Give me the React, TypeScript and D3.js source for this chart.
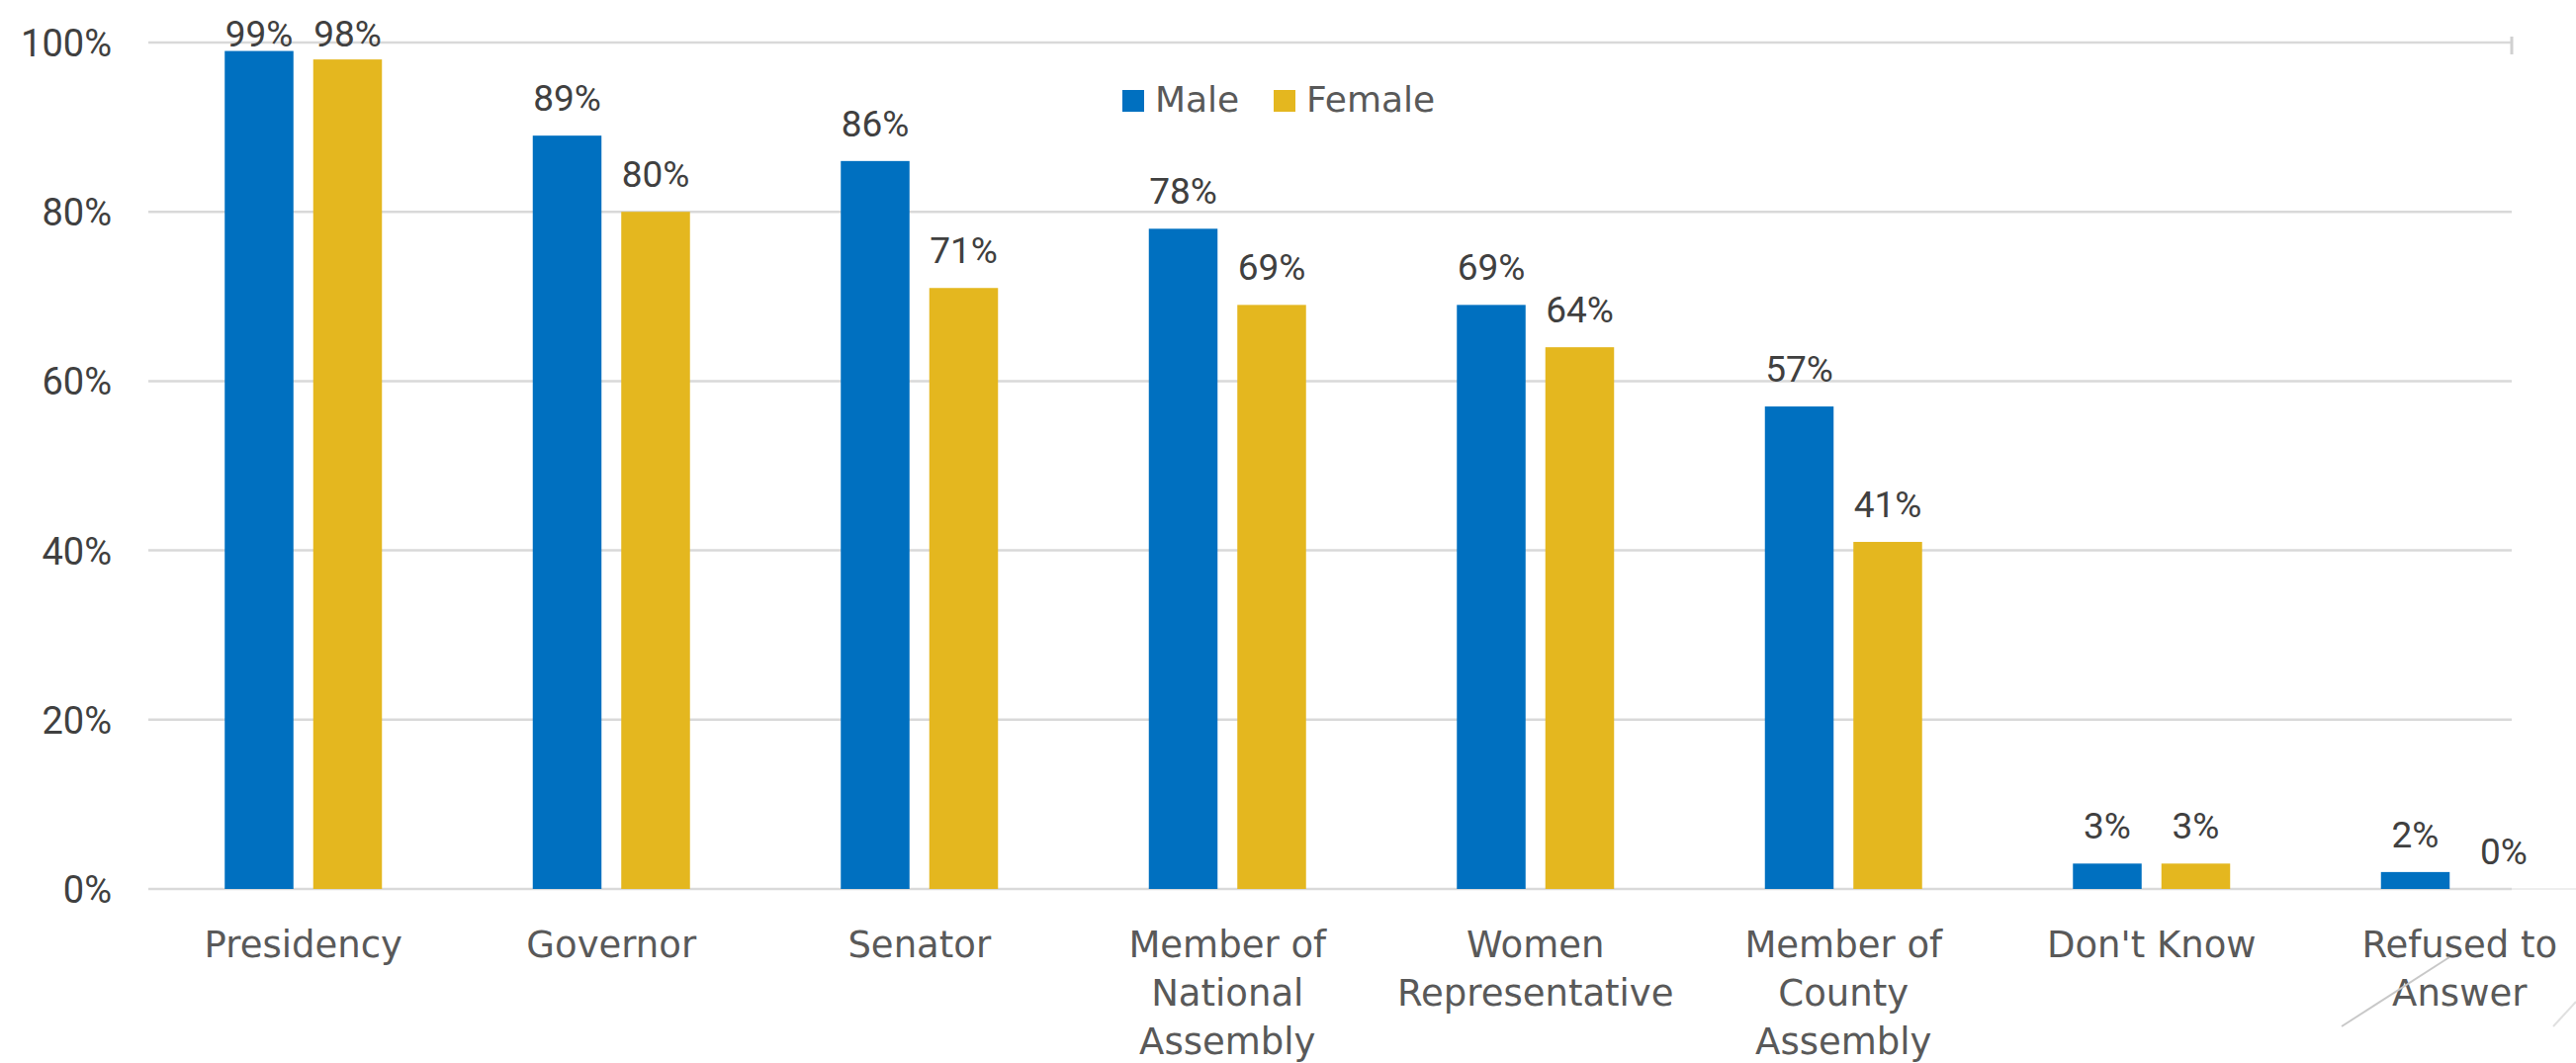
import React from "react";
import * as d3 from "d3";

const categories = [
  "Presidency",
  "Governor",
  "Senator",
  "Member of National Assembly",
  "Women Representative",
  "Member of County Assembly",
  "Don't Know",
  "Refused to Answer",
];
const categoryLines: string[][] = [
  ["Presidency"],
  ["Governor"],
  ["Senator"],
  ["Member of", "National", "Assembly"],
  ["Women", "Representative"],
  ["Member of", "County", "Assembly"],
  ["Don't Know"],
  ["Refused to", "Answer"],
];
const seriesNames = ["Male", "Female"];
const maleValues = [99, 89, 86, 78, 69, 57, 3, 2];
const femaleValues = [98, 80, 71, 69, 64, 41, 3, 0];
const yTicks = [0, 20, 40, 60, 80, 100];
const colors = ["#0070C0", "#E4B71F"];

const W = 2605;
const H = 1075;

export default function App() {
  const x0 = d3.scaleBand<string>().domain(categories).range([151, 2643]).paddingInner(0.4896).paddingOuter(0.2448);
  const x1 = d3.scaleBand<string>().domain(seriesNames).range([0, x0.bandwidth()]).paddingInner(0.2235).paddingOuter(0);
  const y = d3.scaleLinear().domain([0, 100]).range([899, 43]);
  const series = [maleValues, femaleValues];
  const numFont = "Roboto, 'DejaVu Sans', sans-serif";
  const catFont = "'DejaVu Sans', sans-serif";

  return (
    <svg width={W} height={H} style={{ position: "absolute", left: 0, top: 0, display: "block", background: "#fff" }}>
      <rect x={0} y={0} width={W} height={H} fill="#fff" />
      {/* gridlines */}
      {yTicks.map((t) => (
        <line key={"g" + t} x1={150} x2={2540} y1={y(t)} y2={y(t)} stroke="#d9d9d9" strokeWidth={2.5} />
      ))}
      <line x1={2540} x2={2605} y1={y(0)} y2={y(0)} stroke="#eeeeee" strokeWidth={2} />
      <line x1={2540} x2={2540} y1={y(100) - 6} y2={y(100) + 12} stroke="#d0d0d0" strokeWidth={3} />
      {/* y tick labels */}
      {yTicks.map((t) => (
        <text key={"t" + t} x={113} y={y(t) + 14} textAnchor="end" fontFamily={numFont} fontSize={38} fill="#404040">
          {t + "%"}
        </text>
      ))}
      {/* bars */}
      {series.map((vals, si) =>
        vals.map((v, i) => {
          const bx = (x0(categories[i]) as number) + (x1(seriesNames[si]) as number);
          return (
            <rect key={`b${si}-${i}`} x={bx} y={y(v)} width={x1.bandwidth()} height={y(0) - y(v)} fill={colors[si]} />
          );
        })
      )}
      {/* value labels */}
      {series.map((vals, si) =>
        vals.map((v, i) => {
          const cx = (x0(categories[i]) as number) + (x1(seriesNames[si]) as number) + x1.bandwidth() / 2;
          return (
            <text key={`l${si}-${i}`} x={cx} y={Math.max(y(v) - 25, 47)} textAnchor="middle" fontFamily={numFont} fontSize={37} fill="#404040">
              {v + "%"}
            </text>
          );
        })
      )}
      {/* category labels */}
      {categories.map((c, i) => {
        const cx = (x0(c) as number) + x0.bandwidth() / 2;
        return (
          <text key={"c" + i} textAnchor="middle" fontFamily={catFont} fontSize={37} fill="#595959">
            {categoryLines[i].map((ln, j) => (
              <tspan key={j} x={cx} y={968 + j * 49}>
                {ln}
              </tspan>
            ))}
          </text>
        );
      })}
      {/* legend */}
      {seriesNames.map((s, i) => {
        const lx = [1135, 1288][i];
        return (
          <g key={"lg" + s}>
            <rect x={lx} y={91} width={22} height={22} fill={colors[i]} />
            <text x={lx + 33} y={113} fontFamily={catFont} fontSize={36} fill="#595959">
              {s}
            </text>
          </g>
        );
      })}
      {/* decorative slide lines */}
      <line x1={2368} y1={1038} x2={2477} y2={968} stroke="#c8c8c8" strokeWidth={2} />
      <line x1={2582} y1={1038} x2={2605} y2={1013} stroke="#e0e0e0" strokeWidth={2} />
    </svg>
  );
}
